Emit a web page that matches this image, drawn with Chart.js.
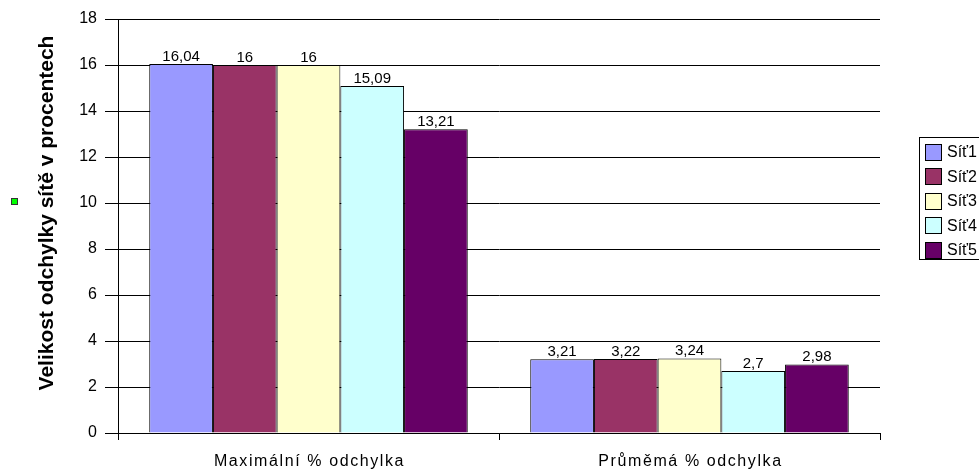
<!DOCTYPE html>
<html>
<head>
<meta charset="utf-8">
<script src="https://cdn.jsdelivr.net/npm/chart.js@4/dist/chart.umd.min.js"></script>
<style>
  html, body { margin: 0; padding: 0; background: #fff; overflow: hidden; }
  #wrap { width: 979px; height: 473px; }
</style>
</head>
<body>
<div id="wrap"><canvas id="k1" width="979" height="473"></canvas></div>
<script>
const categories = ['Maximální % odchylka', 'Průměmá % odchylka'];
const seriesNames = ['Síť1', 'Síť2', 'Síť3', 'Síť4', 'Síť5'];
const seriesColors = ['#9999FF', '#993366', '#FFFFCC', '#CCFFFF', '#660066'];
const sit1 = [16.04, 3.21];
const sit2 = [16, 3.22];
const sit3 = [16, 3.24];
const sit4 = [15.09, 2.7];
const sit5 = [13.21, 2.98];
const yTicks = [0, 2, 4, 6, 8, 10, 12, 14, 16, 18];
const yTitle = 'Velikost odchylky sítě v procentech';

const FONT = '"Liberation Sans", Arial, sans-serif';
const seriesValues = [sit1, sit2, sit3, sit4, sit5];

// value labels above each bar, written with a decimal comma
const valueLabels = {
  id: 'valueLabels',
  afterDatasetsDraw(chart) {
    const ctx = chart.ctx;
    ctx.save();
    ctx.font = '15px ' + FONT;
    ctx.fillStyle = '#000';
    ctx.textAlign = 'center';
    ctx.textBaseline = 'alphabetic';
    chart.data.datasets.forEach((ds, i) => {
      chart.getDatasetMeta(i).data.forEach((bar, j) => {
        const { x, y } = bar.getProps(['x', 'y'], true);
        ctx.fillText(String(ds.data[j]).replace('.', ','), x, y - 3);
      });
    });
    ctx.restore();
  }
};

// category names under the x axis and the rotated y-axis title
const axisTexts = {
  id: 'axisTexts',
  afterDraw(chart) {
    const ctx = chart.ctx;
    const xs = chart.scales.x;
    ctx.save();
    ctx.font = '16px ' + FONT;
    ctx.letterSpacing = '1.6px';
    ctx.fillStyle = '#000';
    ctx.textAlign = 'center';
    ctx.textBaseline = 'middle';
    chart.data.labels.forEach((lab, i) => {
      ctx.fillText(lab, xs.getPixelForTick(i) + 1, 462);
    });
    ctx.letterSpacing = '0px';
    ctx.translate(47, 213);
    ctx.rotate(-Math.PI / 2);
    ctx.font = 'bold 21px ' + FONT;
    ctx.fillText(yTitle, 0, 0);
    ctx.restore();
  }
};

// boxed legend at the right, plus the small marker left of the axis title
const sideLegend = {
  id: 'sideLegend',
  afterDraw(chart) {
    const ctx = chart.ctx;
    ctx.save();
    ctx.fillStyle = '#fff';
    ctx.strokeStyle = '#000';
    ctx.lineWidth = 1;
    ctx.fillRect(919.5, 137.5, 80, 122);
    ctx.strokeRect(919.5, 137.5, 80, 122);
    ctx.font = '16px ' + FONT;
    ctx.textBaseline = 'middle';
    ctx.textAlign = 'left';
    chart.data.datasets.forEach((ds, i) => {
      const cy = 152 + i * 24.4;
      ctx.fillStyle = ds.backgroundColor;
      ctx.fillRect(925.5, Math.round(cy - 8) + 0.5, 16, 16);
      ctx.strokeRect(925.5, Math.round(cy - 8) + 0.5, 16, 16);
      ctx.fillStyle = '#000';
      ctx.fillText(ds.label, 947, cy + 1);
    });
    ctx.fillStyle = '#00FF00';
    ctx.strokeStyle = '#333';
    ctx.fillRect(11.5, 198.5, 6, 6);
    ctx.strokeRect(11.5, 198.5, 6, 6);
    ctx.restore();
  }
};

new Chart(document.getElementById('k1'), {
  type: 'bar',
  data: {
    labels: categories,
    datasets: seriesNames.map((name, i) => ({
      label: name,
      data: seriesValues[i],
      backgroundColor: seriesColors[i],
      borderColor: '#000',
      borderWidth: 1,
      barPercentage: 1,
      categoryPercentage: 0.836
    }))
  },
  options: {
    responsive: false,
    animation: false,
    devicePixelRatio: 1,
    layout: { padding: { left: 0, right: 99, top: 19, bottom: 0 } },
    plugins: {
      legend: { display: false },
      tooltip: { enabled: false }
    },
    scales: {
      x: {
        offset: true,
        grid: { offset: true, drawOnChartArea: false, drawTicks: true, tickLength: 7, color: '#000' },
        border: { display: true, color: '#000' },
        ticks: { display: false },
        afterFit(scale) { scale.height = 40; }
      },
      y: {
        min: 0,
        max: 18,
        afterBuildTicks(scale) { scale.ticks = yTicks.map(v => ({ value: v })); },
        grid: { color: '#000', tickColor: '#000', tickLength: 13, drawTicks: true },
        border: { display: true, color: '#000' },
        ticks: { color: '#000', font: { family: FONT, size: 16 }, padding: 8 },
        afterFit(scale) { scale.width = 118; }
      }
    }
  },
  plugins: [valueLabels, axisTexts, sideLegend]
});
</script>
</body>
</html>
